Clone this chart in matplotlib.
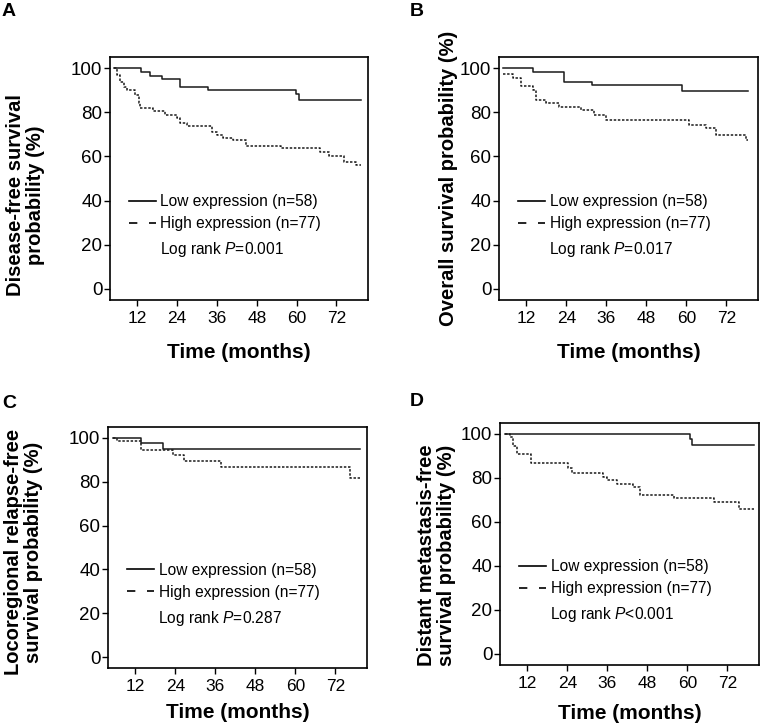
import matplotlib
matplotlib.use('Agg')
import matplotlib.pyplot as plt
from matplotlib.lines import Line2D

plt.rcParams['font.family'] = ['Liberation Sans', 'DejaVu Sans']
plt.rcParams['mathtext.fontset'] = 'custom'
plt.rcParams['mathtext.rm'] = 'Liberation Sans'
plt.rcParams['mathtext.it'] = 'Liberation Sans:italic'

# Kaplan-Meier steps: (months, survival %)
a_low_t = [4.9, 13.1, 15.9, 19.4, 24.9, 33.2, 59.9, 60.7, 79.5]
a_low_s = [100, 98.3, 96.5, 94.9, 91.5, 89.9, 88.2, 85.4, 85.4]
a_high_t = [4.9, 5.9, 6.9, 7.9, 8.9, 11.4, 12.4, 12.9, 16.9, 20.4, 23.9, 24.9, 26.9,
            34.4, 35.9, 37.9, 40.9, 44.9, 55.4, 66.9, 69.9, 74.4, 78.0, 79.5]
a_high_s = [100, 96.8, 93.8, 91.5, 90.0, 87.8, 84.0, 81.8, 80.5, 78.7, 77.3, 75.0, 73.8,
            71.2, 69.7, 68.2, 67.5, 64.7, 63.6, 62.1, 60.2, 57.6, 56.3, 56.3]

b_low_t = [4.9, 13.9, 23.4, 31.7, 58.7, 78.6]
b_low_s = [100, 98.0, 93.9, 92.1, 89.4, 89.4]
b_high_t = [4.9, 7.9, 10.4, 13.9, 14.9, 17.9, 21.9, 28.4, 32.4, 35.9, 60.9, 65.9,
            68.9, 77.9, 78.6]
b_high_s = [97.4, 95.5, 91.7, 90.2, 85.7, 84.2, 82.3, 81.1, 78.9, 76.6, 74.3, 72.8,
            69.8, 67.6, 67.6]

c_low_t = [5.2, 13.7, 20.3, 79.5]
c_low_s = [100, 97.7, 95.0, 95.0]
c_high_t = [5.2, 6.4, 13.7, 23.3, 26.7, 37.7, 76.5, 79.5]
c_high_s = [100, 98.5, 94.3, 92.0, 89.4, 86.7, 81.9, 81.9]

d_low_t = [5.2, 60.7, 61.4, 80.0]
d_low_s = [100, 97.7, 94.9, 94.9]
d_high_t = [5.2, 6.7, 7.7, 8.9, 13.2, 24.3, 25.3, 34.8, 35.8, 38.8, 43.8, 45.9,
            55.9, 68.0, 75.5, 80.0]
d_high_s = [100, 98.7, 94.6, 91.1, 87.0, 84.4, 82.3, 80.5, 79.2, 77.4, 75.9, 72.3,
            71.1, 68.9, 65.8, 65.8]

p_values = ['=0.001', '=0.017', '=0.287', '<0.001']
y_labels = ['Disease-free survival\nprobability (%)',
            'Overall survival probability (%)',
            'Locoregional relapse-free\nsurvival probability (%)',
            'Distant metastasis-free\nsurvival probability (%)']
letters = ['A', 'B', 'C', 'D']
x_ticks = [12, 24, 36, 48, 60, 72]
y_ticks = [0, 20, 40, 60, 80, 100]

W, H = 761, 725
fig = plt.figure(figsize=(W / 100, H / 100), dpi=100)

# axes boxes in pixels: left, top, right, bottom
boxes = [(110, 57, 368, 300), (499, 57, 758, 300),
         (108, 427, 367, 668), (500, 423, 759, 665)]
ylab_pos = [(-0.252, 0.43), (-0.16, 0.5), (-0.252, 0.48), (-0.170, 0.455)]
xlab_pos = [-0.214, -0.214, -0.183, -0.202]
letter_pos = [(2, 3), (410, 3), (2, 395), (410, 393)]

curves = [(a_low_t, a_low_s, a_high_t, a_high_s),
          (b_low_t, b_low_s, b_high_t, b_high_s),
          (c_low_t, c_low_s, c_high_t, c_high_s),
          (d_low_t, d_low_s, d_high_t, d_high_s)]

for i in range(4):
    l, t, r, b = boxes[i]
    ax = fig.add_axes([l / W, 1 - b / H, (r - l) / W, (b - t) / H])
    lt, ls, ht, hs = curves[i]
    ax.step(lt, ls, where='post', color='#1a1a1a', lw=1.1)
    ax.step(ht, hs, where='post', color='#1a1a1a', lw=1.1, linestyle=(0, (1.6, 1.1)))
    ax.set_xlim(3.8, 81.5)
    ax.set_ylim(-5, 105)
    ax.set_xticks(x_ticks)
    ax.set_yticks(y_ticks)
    ax.tick_params(axis='x', labelsize=12.5, length=4, width=1, pad=4)
    ax.tick_params(axis='y', labelsize=13.5, length=4.5, width=1, pad=1)
    for sp in ax.spines.values():
        sp.set_linewidth(1.2)

    ax.set_xlabel('Time (months)', fontsize=15, fontweight='bold', va='center')
    ax.xaxis.set_label_coords(0.5, xlab_pos[i])
    ax.set_ylabel(y_labels[i], fontsize=14.5, fontweight='bold', multialignment='center',
                  linespacing=1.05)
    ax.yaxis.set_label_coords(*ylab_pos[i])

    handles = [Line2D([], [], color='black', lw=1.2),
               Line2D([], [], color='black', lw=1.2, linestyle=(0, (5, 7)))]
    ax.legend(handles, ['Low expression (n=58)', 'High expression (n=77)'],
              loc='center left', bbox_to_anchor=(0.075, 0.36), frameon=False,
              fontsize=11.2, handlelength=1.7, handletextpad=0.3,
              labelspacing=0.45, borderpad=0, borderaxespad=0)
    ax.text(0.194, 0.207, 'Log rank $P$' + p_values[i],
            transform=ax.transAxes, fontsize=11.2, va='center', ha='left')

    lx, ly = letter_pos[i]
    fig.text(lx / W, 1 - ly / H, letters[i], fontsize=14, fontweight='bold',
             ha='left', va='top')

fig.savefig('out.png', dpi=100)
